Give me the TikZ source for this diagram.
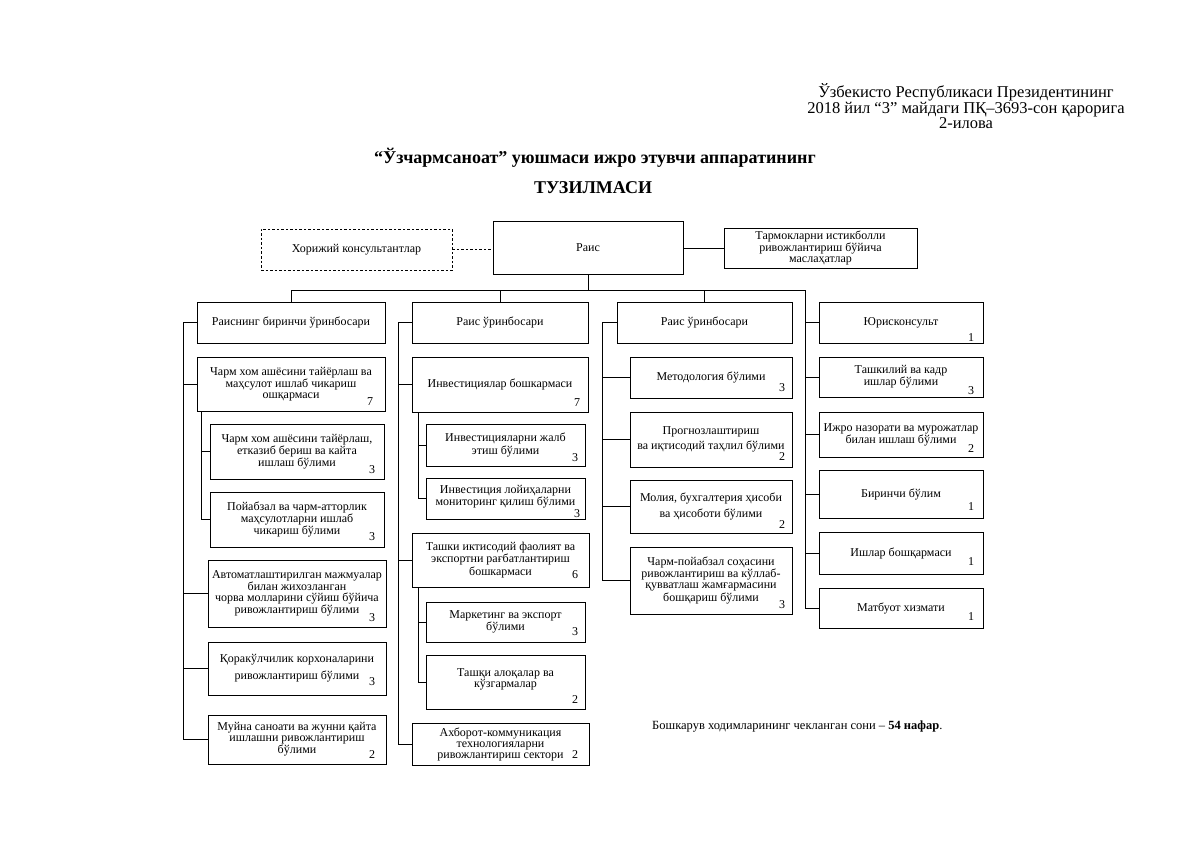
\documentclass[tikz,border=0pt]{standalone}
\usepackage{fontspec}
\setmainfont{Liberation Serif}
\newcommand\orgbox[7]{% name, x1, y1, x2, y2, text, extra
  \node[box,minimum width={#4pt-#2pt},minimum height={#5pt-#3pt},#7] (#1) at ({(#2+#4)/2},{(#3+#5)/2}) {#6};}
\newcommand\orgnum[4]{% name, x, y, number
  \node[num] (#1) at (#2,#3) {#4};}
\begin{document}
\begin{tikzpicture}[x=1pt,y=-1pt,
  box/.style={draw,line width=0.8pt,inner sep=0pt,align=center,font=\fontsize{12}{11}\selectfont},
  dbox/.style={box,dash pattern=on 2.5pt off 2pt},
  num/.style={inner sep=0pt,font=\fontsize{12}{12}\selectfont},
  link/.style={line width=0.8pt},
  dlink/.style={line width=0.8pt,dash pattern=on 2.5pt off 2pt}]
\useasboundingbox (0,0) rectangle (1200,848);

% header
\node[align=center,font=\fontsize{16.5}{14.5}\selectfont] (hdr) at (966,106) {Ўзбекисто Республикаси Президентининг\\2018 йил “3” майдаги ПҚ–3693-сон қарорига\\2-илова};
\node[font=\bfseries\fontsize{18}{20}\selectfont] (t1) at (595,158) {“Ўзчармсаноат” уюшмаси ижро этувчи аппаратининг};
\node[font=\bfseries\fontsize{18}{20}\selectfont] (t2) at (593,188) {ТУЗИЛМАСИ};

% top row
\orgbox{hk}{261}{229}{452}{270}{Хорижий консультантлар}{dbox}
\orgbox{rais}{493}{221}{683}{274}{Раис}{}
\orgbox{tm}{724}{228}{917}{268}{Тармокларни истикболли\\ривожлантириш бўйича\\маслаҳатлар}{}
\draw[dlink] (hk.east) -- (hk.east -| rais.west);
\draw[link] (tm.west -| rais.east) -- (tm.west);

% column 1
\orgbox{c1h}{197}{302}{385}{343}{Раиснинг биринчи ўринбосари}{}
\orgbox{c1a}{197}{357}{385}{411}{Чарм хом ашёсини тайёрлаш ва\\маҳсулот ишлаб чикариш\\ошқармаси}{}
\orgnum{n1a}{370}{402}{7}
\orgbox{c1a1}{210}{424}{384}{479}{Чарм хом ашёсини тайёрлаш,\\етказиб бериш ва кайта\\ишлаш бўлими}{}
\orgnum{n1a1}{372}{470}{3}
\orgbox{c1a2}{210}{492}{384}{547}{Пойабзал ва чарм-атторлик\\маҳсулотларни ишлаб\\чикариш бўлими}{}
\orgnum{n1a2}{372}{537}{3}
\orgbox{c1b}{208}{560}{386}{627}{Автоматлаштирилган мажмуалар\\билан жихозланган\\чорва молларини сўйиш бўйича\\ривожлантириш бўлими}{}
\orgnum{n1b}{372}{618}{3}
\orgbox{c1c}{208}{642}{386}{695}{Қоракўлчилик корхоналарини\\[5pt]ривожлантириш бўлими}{}
\orgnum{n1c}{372}{682}{3}
\orgbox{c1d}{208}{715}{386}{764}{Муйна саноати ва жунни қайта\\ишлашни ривожлантириш\\бўлими}{}
\orgnum{n1d}{372}{755}{2}

% column 2
\orgbox{c2h}{412}{302}{588}{343}{Раис ўринбосари}{}
\orgbox{c2a}{412}{357}{588}{412}{Инвестициялар бошкармаси}{}
\orgnum{n2a}{577}{403}{7}
\orgbox{c2a1}{426}{424}{585}{466}{Инвестицияларни жалб\\этиш бўлими}{}
\orgnum{n2a1}{575}{458}{3}
\orgbox{c2a2}{426}{478}{585}{519}{Инвестиция лойиҳаларни\\мониторинг қилиш бўлими}{text depth=6pt}
\orgnum{n2a2}{577}{514}{3}
\orgbox{c2b}{412}{533}{589}{587}{Ташки иктисодий фаолият ва\\экспортни рағбатлантириш\\бошкармаси}{}
\orgnum{n2b}{575}{575}{6}
\orgbox{c2b1}{426}{602}{585}{642}{Маркетинг ва экспорт\\бўлими}{}
\orgnum{n2b1}{575}{632}{3}
\orgbox{c2b2}{426}{655}{585}{709}{Ташқи алоқалар ва\\кўзгармалар}{text depth=8pt}
\orgnum{n2b2}{575}{700}{2}
\orgbox{c2c}{412}{723}{589}{765}{Ахборот-коммуникация\\технологияларни\\ривожлантириш сектори}{}
\orgnum{n2c}{575}{755}{2}

% column 3
\orgbox{c3h}{617}{302}{792}{343}{Раис ўринбосари}{}
\orgbox{c3a}{630}{357}{792}{398}{Методология бўлими}{}
\orgnum{n3a}{782}{388}{3}
\orgbox{c3b}{630}{412}{792}{467}{Прогнозлаштириш\\[3pt]ва иқтисодий таҳлил бўлими}{}
\orgnum{n3b}{782}{457}{2}
\orgbox{c3c}{630}{480}{792}{533}{Молия, бухгалтерия ҳисоби\\[3pt]ва ҳисоботи бўлими}{}
\orgnum{n3c}{782}{525}{2}
\orgbox{c3d}{630}{547}{792}{614}{Чарм-пойабзал соҳасини\\ривожлантириш ва кўллаб-\\қувватлаш жамғармасини\\бошқариш бўлими}{}
\orgnum{n3d}{782}{605}{3}

% column 4
\orgbox{c4a}{819}{302}{983}{343}{Юрисконсульт}{}
\orgnum{n4a}{971}{338}{1}
\orgbox{c4b}{819}{357}{983}{397}{Ташкилий ва кадр\\ишлар бўлими}{}
\orgnum{n4b}{971}{391}{3}
\orgbox{c4c}{819}{412}{983}{457}{Ижро назорати ва мурожатлар\\билан ишлаш бўлими}{}
\orgnum{n4c}{971}{449}{2}
\orgbox{c4d}{819}{470}{983}{518}{Биринчи бўлим}{}
\orgnum{n4d}{971}{507}{1}
\orgbox{c4e}{819}{532}{983}{574}{Ишлар бошқармаси}{}
\orgnum{n4e}{971}{562}{1}
\orgbox{c4f}{819}{588}{983}{628}{Матбуот хизмати}{}
\orgnum{n4f}{971}{617}{1}

% footnote
\node[anchor=west,inner sep=0pt,font=\fontsize{12.5}{13}\selectfont] (foot) at (652,727) {Бошкарув ходимларининг чекланган сони – \textbf{54 нафар}.};

% bus
\coordinate (busL) at (291,290);
\coordinate (busR) at (805,290);
\draw[link] (rais.south) -- (rais.south |- busL);
\draw[link] (busL) -- (busR);
\draw[link] (busL) -- (c1h.north);
\draw[link] (c2h.north |- busL) -- (c2h.north);
\draw[link] (c3h.north |- busL) -- (c3h.north);

% column 1 connectors
\coordinate (s1) at (183,0);
\coordinate (s1b) at (201,0);
\draw[link] (c1h.west) -- (c1h.west -| s1) -- (s1 |- c1d.west) -- (c1d.west);
\foreach \n in {c1a,c1b,c1c} \draw[link] (s1 |- \n.west) -- (\n.west);
\draw[link] (s1b |- c1a.south) -- (s1b |- c1a2.west) -- (c1a2.west);
\draw[link] (s1b |- c1a1.west) -- (c1a1.west);

% column 2 connectors
\coordinate (s2) at (398,0);
\coordinate (s2b) at (418,0);
\draw[link] (c2h.west) -- (c2h.west -| s2) -- (s2 |- c2c.west) -- (c2c.west);
\foreach \n in {c2a,c2b} \draw[link] (s2 |- \n.west) -- (\n.west);
\draw[link] (s2b |- c2a.south) -- (s2b |- c2a2.west) -- (c2a2.west);
\draw[link] (s2b |- c2a1.west) -- (c2a1.west);
\draw[link] (s2b |- c2b.south) -- (s2b |- c2b2.west) -- (c2b2.west);
\draw[link] (s2b |- c2b1.west) -- (c2b1.west);

% column 3 connectors
\coordinate (s3) at (602,0);
\draw[link] (c3h.west) -- (c3h.west -| s3) -- (s3 |- c3d.west) -- (c3d.west);
\foreach \n in {c3a,c3b,c3c} \draw[link] (s3 |- \n.west) -- (\n.west);

% column 4 connectors
\draw[link] (busR) -- (busR |- c4f.west) -- (c4f.west);
\foreach \n in {c4a,c4b,c4c,c4d,c4e} \draw[link] (busR |- \n.west) -- (\n.west);
\end{tikzpicture}
\end{document}
